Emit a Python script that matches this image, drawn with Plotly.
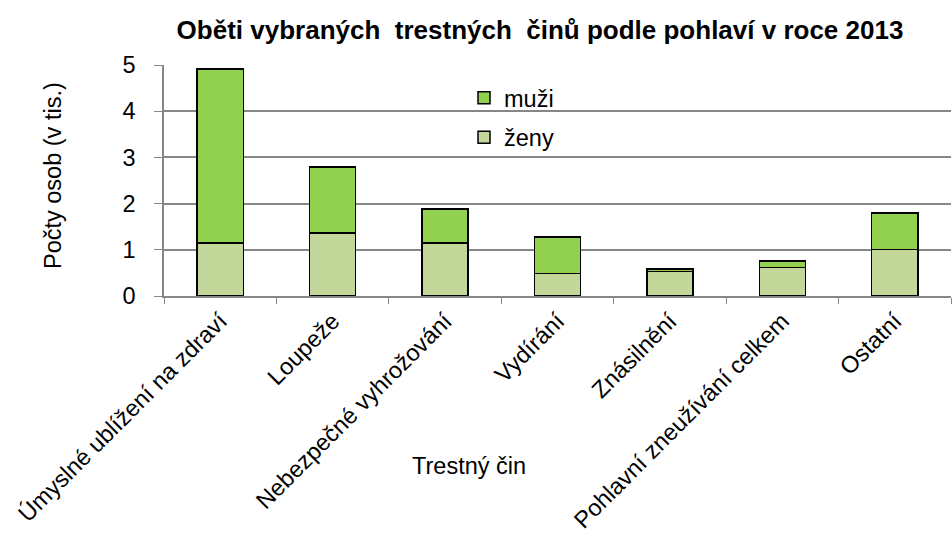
import plotly.graph_objects as go

categories = ["Úmyslné ublížení na zdraví", "Loupeže", "Nebezpečné vyhrožování",
              "Vydírání", "Znásilnění", "Pohlavní zneužívání celkem", "Ostatní"]
zeny = [1.15, 1.36, 1.15, 0.49, 0.53, 0.62, 1.01]
muzi = [3.76, 1.43, 0.73, 0.79, 0.05, 0.14, 0.79]
y_ticks = [0, 1, 2, 3, 4, 5]

FONT = "Arial, 'Liberation Sans', sans-serif"
FS = 23.5

fig = go.Figure()
fig.add_trace(go.Bar(x=categories, y=zeny, name="ženy", legendgroup="z", legendrank=2,
                     marker=dict(color="#C4D79B", line=dict(color="black", width=1.5))))
fig.add_trace(go.Bar(x=categories, y=muzi, name="muži", legendgroup="m", legendrank=1,
                     marker=dict(color="#92D050", line=dict(color="black", width=1.5))))

W, H = 952, 540
L, R, T, B = 164, 1, 65, 244
pw = W - L - R
ph = H - T - B

def px_x(x):
    return (x - L) / pw

def px_y(y):
    return (H - B - y) / ph

fig.update_layout(
    width=W, height=H,
    barmode="stack", bargap=0.59,
    plot_bgcolor="white", paper_bgcolor="white",
    margin=dict(l=L, r=R, t=T, b=B),
    font=dict(family=FONT, size=FS, color="black"),
    title=dict(text="Oběti vybraných  trestných  činů podle pohlaví v roce 2013",
               font=dict(family=FONT, size=26, color="black", weight="bold"),
               x=540 / W, xanchor="center", xref="container",
               y=1 - 30 / H, yanchor="middle", yref="container"),
    legend=dict(x=px_x(464), y=px_y(76), xanchor="left", yanchor="top",
                traceorder="grouped", tracegroupgap=6,
                bgcolor="rgba(0,0,0,0)", font=dict(size=FS)),
    showlegend=True,
    xaxis=dict(showline=True, linecolor="#868686", linewidth=2,
               ticks="outside", tickson="boundaries", ticklen=6, tickcolor="#868686",
               tickangle=-45, tickfont=dict(size=FS), showgrid=False),
    yaxis=dict(range=[0, 5], tickvals=y_ticks, showline=True, linecolor="#868686",
               linewidth=1.5, showgrid=True, gridcolor="#868686", gridwidth=1.5,
               ticks="outside", ticklen=8, tickcolor="#868686",
               ticklabelstandoff=14, tickfont=dict(size=FS), zeroline=False),
    annotations=[
        dict(text="Trestný čin", x=px_x(469), y=px_y(466), xref="paper", yref="paper",
             showarrow=False, xanchor="center", yanchor="middle", font=dict(size=FS)),
        dict(text="Počty osob (v tis.)", x=px_x(53), y=px_y(176), xref="paper", yref="paper",
             showarrow=False, xanchor="center", yanchor="middle", textangle=-90,
             font=dict(size=FS)),
    ],
)

fig.write_html("out.html", config={"displayModeBar": False},
               post_script="document.body.style.margin='0';document.body.style.padding='0';")
